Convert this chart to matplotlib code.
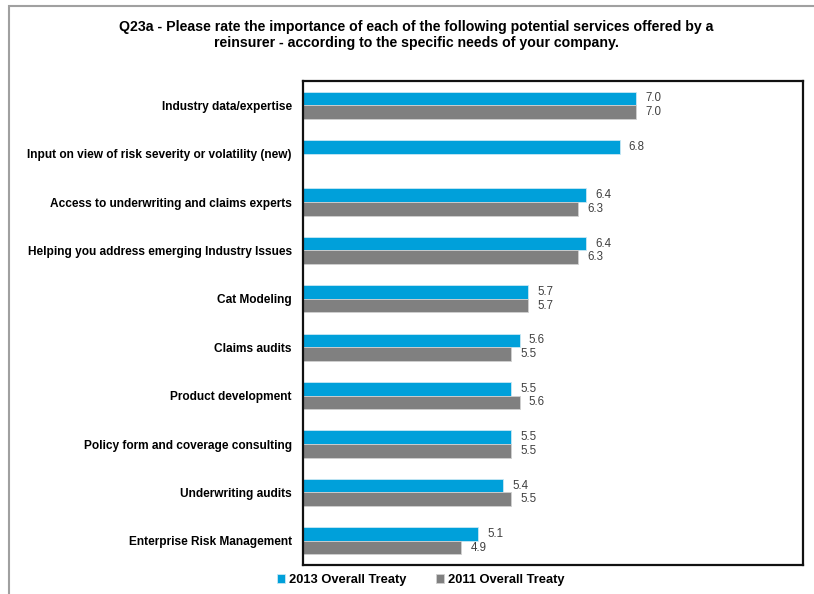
import numpy as np
import matplotlib.pyplot as plt
from matplotlib.patches import Rectangle

plt.rcParams['font.family'] = ['Liberation Sans', 'DejaVu Sans']

services = [
    'Industry data/expertise',
    'Input on view of risk severity or volatility (new)',
    'Access to underwriting and claims experts',
    'Helping you address emerging Industry Issues',
    'Cat Modeling',
    'Claims audits',
    'Product development',
    'Policy form and coverage consulting',
    'Underwriting audits',
    'Enterprise Risk Management',
]
treaty_2013 = [7.0, 6.8, 6.4, 6.4, 5.7, 5.6, 5.5, 5.5, 5.4, 5.1]
treaty_2011 = [7.0, np.nan, 6.3, 6.3, 5.7, 5.5, 5.6, 5.5, 5.5, 4.9]

blue = '#00a0da'
grey = '#808080'

fig = plt.figure(figsize=(8.14, 5.94), dpi=100)
# chart area border (runs off the right and bottom edges)
fig.patches.append(Rectangle((9 / 814, -0.1), 1.2, 1 - 6 / 594 + 0.1,
                             transform=fig.transFigure, fill=False,
                             edgecolor='#a0a0a0', linewidth=1.5))

ax = fig.add_axes([303 / 814, 1 - 565 / 594, 500 / 814, 484 / 594])

y = np.arange(len(services))
h = 0.28
ax.barh(y - h / 2, np.array(treaty_2013) - 3, h, left=3, color=blue,
        edgecolor='#c8e8f4', linewidth=0.6, label='2013 Overall Treaty')
ax.barh(y + h / 2, np.array(treaty_2011) - 3, h, left=3, color=grey,
        edgecolor='#d0d0d0', linewidth=0.6, label='2011 Overall Treaty')

for i in range(len(services)):
    for val, off in ((treaty_2013[i], -h / 2), (treaty_2011[i], h / 2)):
        if not np.isnan(val):
            ax.text(val + 0.11, i + off, f'{val:.1f}', va='center', ha='left',
                    fontsize=8.3, color='#404040')

ax.set_xlim(3, 9)
ax.set_ylim(len(services) - 0.5, -0.5)
ax.set_xticks([])
ax.set_yticks(y)
ax.set_yticklabels(services, fontsize=8.6, fontweight='bold')
ax.tick_params(axis='y', length=0, pad=8)
for s in ax.spines.values():
    s.set_linewidth(1.6)
    s.set_color('#111111')

fig.text(0.511, 1 - 35 / 594,
         'Q23a - Please rate the importance of each of the following potential services offered by a\n'
         'reinsurer - according to the specific needs of your company.',
         ha='center', va='center', fontsize=10.2, fontweight='bold', linespacing=1.25)

fig.legend(loc='center', bbox_to_anchor=(0.517, 1 - 580 / 594), ncol=2, frameon=False,
           prop={'size': 9.3, 'weight': 'bold'},
           handlelength=0.6, handleheight=0.6, handletextpad=0.3, columnspacing=2.3)

fig.savefig('out.png', dpi=100)
